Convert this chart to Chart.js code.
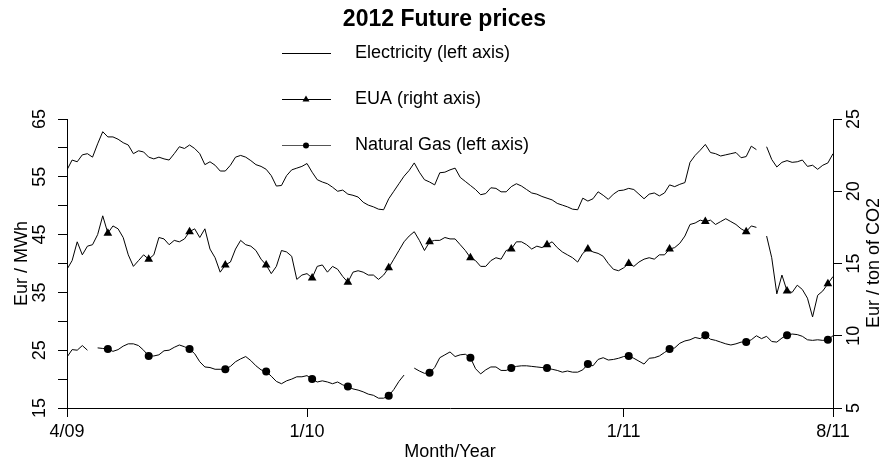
<!DOCTYPE html>
<html>
<head>
<meta charset="utf-8">
<title>2012 Future prices</title>
<script src="https://cdn.jsdelivr.net/npm/chart.js@4.4.1/dist/chart.umd.min.js"></script>
<style>
  html, body { margin: 0; padding: 0; background: #fff; }
  #wrap { width: 889px; height: 466px; }
</style>
</head>
<body>
<div id="wrap"><canvas id="chart" width="889" height="466"></canvas></div>
<script>
// x axis: observation index, with the month labels placed where the picture puts them
const tickPos = [0, 47, 109, 150];
const tickText = ['4/09', '1/10', '1/11', '8/11'];
// observations carrying a marker (triangle / dot)
const markerIdx = [8, 16, 24, 31, 39, 48, 55, 63, 71, 79, 87, 94, 102, 110, 118, 125, 133, 141, 149];

const seriesNames = ['Electricity (left axis)', 'EUA (right axis)', 'Natural Gas (left axis)'];

// Eur / MWh
const electricity = [
  56.2, 57.9, 57.6, 58.8, 59.0, 58.4, 60.7, 62.8, 61.9, 61.9,
  61.5, 60.9, 60.5, 59.0, 59.5, 59.3, 58.4, 58.1, 58.4, 58.1,
  57.9, 59.0, 60.2, 59.9, 60.5, 59.9, 59.0, 57.1, 57.6, 57.0,
  56.0, 56.0, 57.0, 58.4, 58.7, 58.4, 57.8, 57.1, 56.8, 56.3,
  55.2, 53.4, 53.5, 55.2, 56.2, 56.5, 56.8, 57.3, 55.8, 54.5,
  54.1, 53.8, 53.2, 52.5, 52.7, 52.0, 51.8, 51.5, 50.6, 50.1,
  49.8, 49.4, 49.3, 51.2, 52.5, 53.8, 55.1, 56.1, 57.4, 55.8,
  54.5, 54.1, 53.6, 55.7, 55.8, 56.2, 56.5, 54.9, 54.2, 53.5,
  52.8, 51.9, 52.1, 53.1, 53.0, 52.4, 52.4, 53.3, 53.8, 53.4,
  52.8, 52.2, 52.0, 51.6, 51.3, 51.0, 50.4, 50.1, 49.8, 49.4,
  49.3, 51.3, 50.8, 51.2, 52.4, 51.8, 51.1, 52.0, 52.6, 52.7,
  53.0, 52.8, 52.0, 51.2, 52.0, 52.2, 51.7, 52.2, 53.6, 53.3,
  53.7, 54.0, 57.5, 58.7, 59.6, 60.6, 59.2, 59.0, 58.6, 58.8,
  59.0, 59.2, 58.3, 58.5, 60.3, 59.7, null, 60.2, 58.0, 56.7,
  57.5, 57.8, 57.5, 57.6, 57.9, 56.8, 57.0, 56.3, 57.0, 57.4, 59.0
];

// Eur / ton of CO2
const eua = [
  14.6, 15.2, 16.5, 15.6, 16.2, 16.3, 17.0, 18.3, 17.1, 17.6,
  17.4, 16.8, 15.6, 14.8, 15.2, 15.6, 15.3, 15.6, 16.8, 16.7,
  16.3, 16.6, 16.5, 16.7, 17.2, 17.4, 16.8, 17.4, 16.0, 15.4,
  14.4, 14.9, 15.1, 16.0, 16.6, 16.3, 16.2, 15.9, 15.3, 14.9,
  14.3, 14.8, 15.9, 15.8, 15.5, 13.9, 14.2, 14.3, 14.0, 14.8,
  14.9, 14.4, 14.8, 14.6, 14.1, 13.7, 14.4, 14.5, 14.4, 14.2,
  14.2, 13.9, 14.2, 14.7, 15.3, 15.9, 16.5, 16.9, 17.2, 16.6,
  15.9, 16.5, 16.6, 16.6, 16.8, 16.7, 16.7, 16.3, 15.9, 15.4,
  15.2, 14.8, 14.8, 15.2, 15.4, 15.3, 15.9, 16.0, 16.5, 16.5,
  16.3, 16.0, 16.2, 16.1, 16.3, 16.5, 16.1, 15.8, 15.6, 15.4,
  15.1, 15.7, 16.0, 15.8, 15.7, 15.5, 15.0, 14.6, 14.5, 14.7,
  15.0, 14.8, 15.1, 15.3, 15.4, 15.3, 15.6, 15.6, 16.0, 16.1,
  16.4, 16.9, 17.7, 17.8, 18.0, 17.9, 18.0, 17.7, 17.9, 18.1,
  17.9, 17.7, 17.4, 17.2, 17.6, 17.5, null, 16.9, 15.4, 12.9,
  14.2, 13.1, 13.0, 13.5, 13.2, 12.6, 11.3, 12.8, 13.1, 13.6, 14.1
];

// Eur / MWh
const gas = [
  23.8, 25.1, 25.0, 25.8, 25.0, null, 25.4, 25.3, 25.2, 24.8,
  25.1, 25.7, 26.1, 26.1, 25.8, 25.0, 24.0, 24.0, 24.2, 24.9,
  25.0, 25.5, 25.9, 25.6, 25.2, 24.4, 23.0, 22.1, 22.0, 21.7,
  21.7, 21.7, 22.2, 23.0, 23.5, 23.9, 23.2, 22.3, 21.6, 21.3,
  20.5, 19.6, 19.2, 19.7, 20.0, 20.4, 20.4, 20.6, 20.0, 19.5,
  19.7, 19.5, 19.2, 19.5, 19.0, 18.7, 18.3, 18.1, 17.8, 17.4,
  17.2, 16.7, 16.7, 17.1, 18.2, 19.6, 20.7, null, 21.9, 21.4,
  21.0, 21.1, 22.0, 23.7, 24.2, 24.7, 23.9, 24.2, 24.3, 23.7,
  21.8, 20.9, 21.6, 22.1, 22.1, 21.5, 21.5, 21.9, 22.2, 22.3,
  22.3, 22.2, 22.1, 22.0, 21.9, 21.7, 21.5, 21.2, 21.4, 21.2,
  21.2, 21.6, 22.6, 22.3, 23.4, 23.7, 23.3, 23.4, 23.6, 23.9,
  24.0, 23.6, 23.1, 22.6, 23.6, 23.7, 24.0, 24.6, 25.2, 25.4,
  26.2, 26.6, 26.8, 27.2, 27.0, 27.6, 26.9, 26.7, 26.4, 26.1,
  25.9, 26.1, 26.4, 26.4, 26.8, 27.5, 27.0, 27.4, 26.5, 26.4,
  27.1, 27.6, 27.8, 27.7, 27.4, 26.8, 26.7, 26.8, 26.7, 26.8, 27.5
];

const obs = electricity.map((_, i) => i);

const FONT = "'Liberation Sans', Arial, Helvetica, sans-serif";
Chart.defaults.font.family = FONT;
Chart.defaults.color = '#000';

const markerSize = (r) => (ctx) => markerIdx.includes(ctx.dataIndex) ? r : 0;

// R style legend: short line, optional symbol, label, one entry per row
const legendPlugin = {
  id: 'rLegend',
  afterDraw(chart) {
    const c = chart.ctx;
    const rows = [
      { y: 53, sym: null, line: '#000' },
      { y: 99, sym: 'triangle', line: '#000' },
      { y: 145, sym: 'circle', line: '#555' }
    ];
    c.save();
    c.font = '18px ' + FONT;
    c.textBaseline = 'middle';
    c.textAlign = 'left';
    rows.forEach((r, i) => {
      c.strokeStyle = r.line;
      c.lineWidth = 1;
      c.beginPath();
      c.moveTo(282, r.y + 0.5);
      c.lineTo(331, r.y + 0.5);
      c.stroke();
      c.fillStyle = '#000';
      if (r.sym === 'triangle') {
        c.beginPath();
        c.moveTo(306, r.y - 3.5);
        c.lineTo(309.5, r.y + 2.5);
        c.lineTo(302.5, r.y + 2.5);
        c.closePath();
        c.fill();
      } else if (r.sym === 'circle') {
        c.beginPath();
        c.arc(306, r.y + 0.5, 3, 0, Math.PI * 2);
        c.fill();
      }
      c.fillText(seriesNames[i], 355, r.y);
    });
    // right axis title, read bottom to top as in the original
    c.translate(874, 263);
    c.rotate(-Math.PI / 2);
    c.textAlign = 'center';
    c.fillText('Eur / ton of CO2', 0, 0);
    c.restore();
  }
};

new Chart(document.getElementById('chart'), {
  type: 'line',
  data: {
    labels: obs,
    datasets: [
      {
        label: seriesNames[0],
        data: electricity,
        yAxisID: 'y',
        borderColor: '#000',
        borderWidth: 1,
        pointRadius: 0
      },
      {
        label: seriesNames[1],
        data: eua,
        yAxisID: 'y2',
        borderColor: '#000',
        borderWidth: 1,
        pointStyle: 'triangle',
        pointRadius: markerSize(5),
        pointBackgroundColor: '#000',
        pointBorderColor: '#000',
        pointBorderWidth: 0
      },
      {
        label: seriesNames[2],
        data: gas,
        yAxisID: 'y',
        borderColor: '#000',
        borderWidth: 1,
        pointStyle: 'circle',
        pointRadius: markerSize(4),
        pointBackgroundColor: '#000',
        pointBorderColor: '#000',
        pointBorderWidth: 0
      }
    ]
  },
  options: {
    responsive: false,
    animation: false,
    devicePixelRatio: 1,
    spanGaps: false,
    layout: { padding: 0 },
    elements: { line: { tension: 0 } },
    plugins: {
      legend: { display: false },
      tooltip: { enabled: false },
      title: {
        display: true,
        text: '2012 Future prices',
        color: '#000',
        font: { size: 23, weight: 'bold', family: FONT },
        padding: { top: 6, bottom: 85.4 }
      }
    },
    scales: {
      x: {
        type: 'linear',
        min: 0,
        max: 150,
        afterBuildTicks: (s) => { s.ticks = tickPos.map(v => ({ value: v })); },
        afterFit: (s) => { s.height = 58; },
        ticks: {
          callback: (v) => tickText[tickPos.indexOf(v)],
          font: { size: 18 },
          color: '#000',
          padding: 4,
          maxRotation: 0,
          autoSkip: false
        },
        grid: { drawOnChartArea: false, drawTicks: true, tickLength: 9, color: '#000' },
        border: { color: '#000' },
        title: { display: true, text: 'Month/Year', font: { size: 18 }, color: '#000', padding: { top: 3, bottom: 3 } }
      },
      y: {
        position: 'left',
        min: 15,
        max: 65,
        afterBuildTicks: (s) => { s.ticks = [15, 20, 25, 30, 35, 40, 45, 50, 55, 60, 65].map(v => ({ value: v })); },
        afterFit: (s) => { s.width = 67; },
        ticks: {
          callback: (v) => (v % 10 === 5 ? String(v) : ''),
          font: { size: 18 },
          color: '#000',
          minRotation: 90,
          maxRotation: 90,
          crossAlign: 'center',
          padding: 8
        },
        grid: { drawOnChartArea: false, drawTicks: true, tickLength: 9, color: '#000' },
        border: { color: '#000' },
        title: { display: true, text: 'Eur / MWh', font: { size: 18 }, color: '#000', padding: { top: 11, bottom: 11 } }
      },
      y2: {
        position: 'right',
        min: 5,
        max: 25,
        afterBuildTicks: (s) => { s.ticks = [5, 10, 15, 20, 25].map(v => ({ value: v })); },
        afterFit: (s) => { s.width = 56; },
        ticks: {
          font: { size: 18 },
          color: '#000',
          minRotation: 90,
          maxRotation: 90,
          crossAlign: 'center',
          padding: 2
        },
        grid: { drawOnChartArea: false, drawTicks: true, tickLength: 9, color: '#000' },
        border: { color: '#000' }
      }
    }
  },
  plugins: [legendPlugin]
});
</script>
</body>
</html>
